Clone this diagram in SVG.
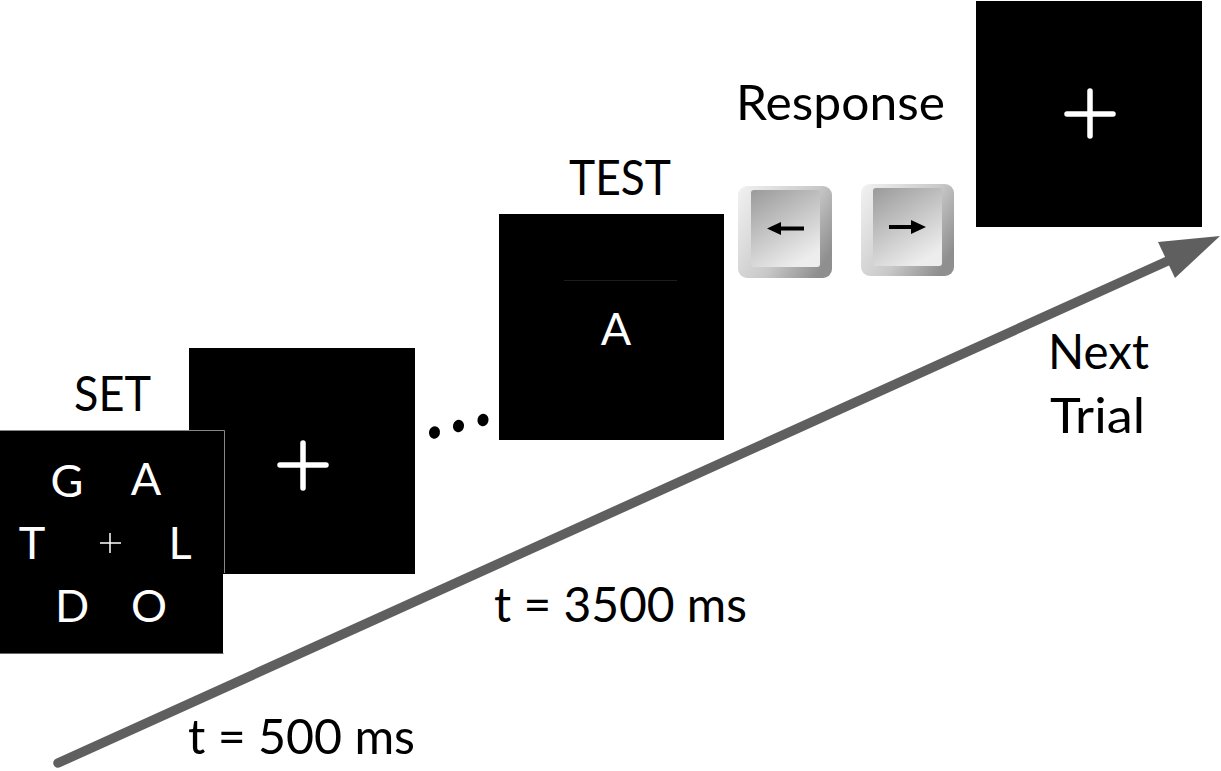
<svg xmlns="http://www.w3.org/2000/svg" width="1221" height="771" viewBox="0 0 1221 771">
  <style>
    text { font-family: "Lato", "Open Sans", "Liberation Sans", sans-serif; }
    .lbl { fill: #000; font-size: 48px; }
    .let { fill: #fff; font-size: 45px; text-anchor: middle; }
    .screen { fill: #000; }
    .cross { stroke: #fff; stroke-width: 5.500; stroke-linecap: round; fill: none; }
    .dot { fill: #000; }
  </style>
  <defs>
    <linearGradient id="keyEdge" x1="0" y1="0.1" x2="1" y2="0.7">
      <stop offset="0" stop-color="#efefef"/>
      <stop offset="0.6" stop-color="#c8c8c8"/>
      <stop offset="1" stop-color="#8f8f8f"/>
    </linearGradient>
    <linearGradient id="keyFace" x1="0.05" y1="0" x2="0.6" y2="1">
      <stop offset="0" stop-color="#9c9c9c"/>
      <stop offset="1" stop-color="#ededed"/>
    </linearGradient>
  </defs>

  <g id="screen-fixation">
    <rect class="screen" x="189" y="348" width="226" height="226"/>
    <path class="cross" d="M303 443V488M280 465H326"/>
  </g>

  <g id="screen-set">
    <rect class="screen" x="0" y="430" width="223" height="224"/>
    <path d="M0 430.500H224.500V573" stroke="#888" stroke-width="1" fill="none"/>
    <path d="M0 653.500H223.500" stroke="#666" stroke-width="1" fill="none"/>
    <text class="let" x="67" y="497">G</text>
    <text class="let" x="146" y="495">A</text>
    <text class="let" x="32" y="559">T</text>
    <text class="let" x="180" y="559">L</text>
    <text class="let" x="72" y="622">D</text>
    <text class="let" x="149" y="622">O</text>
    <path d="M110 533V553M100 543H121" stroke="#fff" stroke-width="1.500" fill="none"/>
  </g>
  <text id="label-set" class="lbl" x="74" y="411" textLength="77" lengthAdjust="spacingAndGlyphs">SET</text>

  <g id="ellipsis">
    <ellipse class="dot" cx="434.500" cy="432.500" rx="5.500" ry="6.200" transform="rotate(15 434.500 432.500)"/>
    <ellipse class="dot" cx="458.500" cy="426" rx="5.500" ry="6.200" transform="rotate(15 458.500 426)"/>
    <ellipse class="dot" cx="483" cy="420" rx="5.500" ry="6.200" transform="rotate(15 483 420)"/>
  </g>

  <g id="screen-test">
    <rect class="screen" x="499" y="214" width="225" height="226"/>
    <line x1="564" y1="280.500" x2="677" y2="280.500" stroke="#1c1c1c" stroke-width="1"/>
    <text class="let" x="616" y="345">A</text>
  </g>
  <text id="label-test" class="lbl" x="569" y="195" textLength="102" lengthAdjust="spacingAndGlyphs">TEST</text>

  <text id="label-response" class="lbl" x="736" y="120" textLength="209" lengthAdjust="spacingAndGlyphs">Response</text>

  <g id="key-left">
    <rect x="738" y="186" width="94" height="92" rx="9" fill="url(#keyEdge)"/>
    <rect x="751" y="190" width="69" height="77" rx="3" fill="url(#keyFace)"/>
    <path d="M767 228.500L781 222V226.500H804V230.500H781V235Z" fill="#000"/>
  </g>

  <g id="key-right">
    <rect x="861" y="184" width="93" height="92" rx="9" fill="url(#keyEdge)"/>
    <rect x="873" y="188" width="69" height="78" rx="3" fill="url(#keyFace)"/>
    <path d="M926 227L911 220V225H889V229H911V234Z" fill="#000"/>
  </g>

  <g id="screen-next">
    <rect class="screen" x="976" y="1" width="226" height="226"/>
    <path class="cross" d="M1090 91V136M1067 114H1113"/>
  </g>

  <g id="connectors">
    <line x1="58" y1="763" x2="1172" y2="259" stroke="#5f5f5f" stroke-width="9.500" stroke-linecap="round"/>
    <path d="M1220 236L1158 242L1175 278Z" fill="#5f5f5f"/>
  </g>

  <g id="time-labels">
    <text class="lbl" x="1048" y="369" textLength="101" lengthAdjust="spacingAndGlyphs">Next</text>
    <text class="lbl" x="1050" y="433" textLength="95" lengthAdjust="spacingAndGlyphs">Trial</text>
    <text class="lbl" x="494" y="622" textLength="253" lengthAdjust="spacingAndGlyphs">t = 3500 ms</text>
    <text class="lbl" x="188" y="754" textLength="227" lengthAdjust="spacingAndGlyphs">t = 500 ms</text>
  </g>
</svg>
